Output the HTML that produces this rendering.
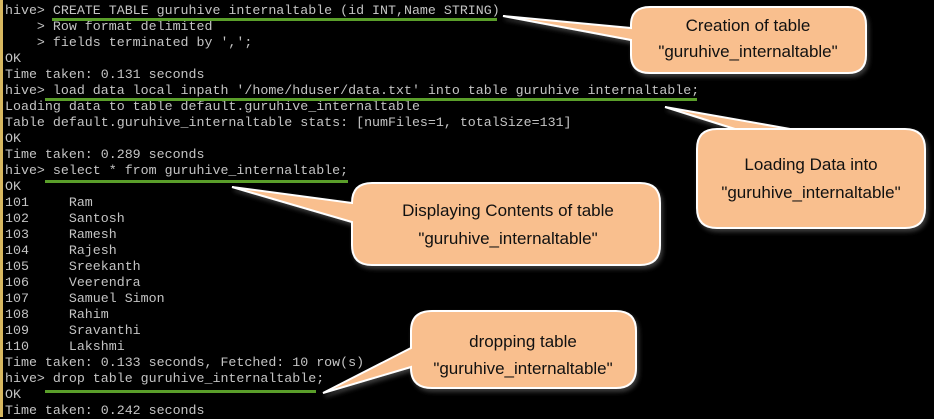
<!DOCTYPE html>
<html><head><meta charset="utf-8"><style>
html,body{margin:0;padding:0;width:934px;height:417px;overflow:hidden;background:#000}
#t{position:absolute;left:5px;top:3px;font-family:"Liberation Mono",monospace;font-size:13.3px;line-height:16px;color:#c4c4c4;white-space:pre}
#bar{position:absolute;left:0;top:0;width:3px;height:417px;background:#d8b860}
.u{position:absolute;height:3px;background:#5a9e2a}
svg{position:absolute;left:0;top:0}
text{font-family:"Liberation Sans Narrow","Liberation Sans",sans-serif;font-size:17px;fill:#111;text-anchor:middle}
</style></head><body>
<div id="bar"></div>
<div id="t">hive> CREATE TABLE guruhive internaltable (id INT,Name STRING)
    > Row format delimited
    > fields terminated by ',';
OK
Time taken: 0.131 seconds
hive> load data local inpath '/home/hduser/data.txt' into table guruhive internaltable;
Loading data to table default.guruhive_internaltable
Table default.guruhive_internaltable stats: [numFiles=1, totalSize=131]
OK
Time taken: 0.289 seconds
hive> select * from guruhive_internaltable;
OK
101     Ram
102     Santosh
103     Ramesh
104     Rajesh
105     Sreekanth
106     Veerendra
107     Samuel Simon
108     Rahim
109     Sravanthi
110     Lakshmi
Time taken: 0.133 seconds, Fetched: 10 row(s)
hive> drop table guruhive_internaltable;
OK
Time taken: 0.242 seconds</div>
<div class="u" style="left:52px;top:18px;width:445px"></div>
<div class="u" style="left:45px;top:98px;width:652px"></div>
<div class="u" style="left:45px;top:180px;width:303px"></div>
<div class="u" style="left:45px;top:390px;width:271px"></div>
<svg width="934" height="417">
<defs><filter id="s" x="-10%" y="-10%" width="130%" height="140%"><feDropShadow dx="2" dy="3" stdDeviation="2" flood-color="#555" flood-opacity="0.7"/></filter></defs>
<g fill="#f9bf8e" stroke="#fff" stroke-width="2" filter="url(#s)">
<path d="M650,7 H848 Q866,7 866,25 V55 Q866,73 848,73 H650 Q631,73 631,55 V40 L503,16 L631,28 V25 Q631,7 650,7 Z"/>
<path d="M720,129 H905 Q925,129 925,149 V208 Q925,228 905,228 H717 Q697,228 697,208 V149 Q697,129 717,129 H735 L665,107 L790,129 Z"/>
<path d="M372,183 H640 Q660,183 660,203 V245 Q660,265 640,265 H372 Q352,265 352,245 V222 L232,187 L352,203 Q352,183 372,183 Z"/>
<path d="M432,311 H616 Q636,311 636,331 V368 Q636,388 616,388 H432 Q411,388 411,368 V367 L323,393 L411,348 V331 Q411,311 432,311 Z"/>
</g>
<text x="748" y="31">Creation of table</text>
<text x="748" y="57">"guruhive_internaltable"</text>
<text x="811" y="170">Loading Data into</text>
<text x="811" y="198">"guruhive_internaltable"</text>
<text x="508" y="216">Displaying Contents of table</text>
<text x="508" y="244">"guruhive_internaltable"</text>
<text x="523" y="347">dropping table</text>
<text x="523" y="374">"guruhive_internaltable"</text>
</svg>
</body></html>
